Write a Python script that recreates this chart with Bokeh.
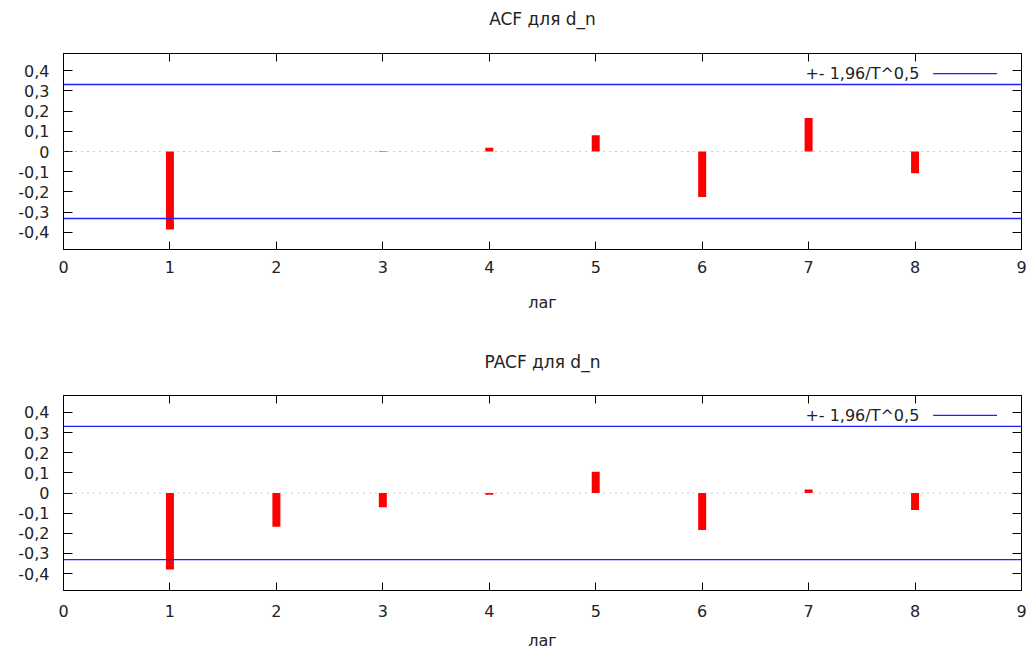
from bokeh.plotting import figure
from bokeh.models import (Range1d, FixedTicker, CustomJSTickFormatter, LinearAxis,
                          Span, Label, ColumnDataSource)
from bokeh.layouts import column
from bokeh.embed import file_html
from bokeh.resources import INLINE

# ---------------- data ----------------
lags = [1, 2, 3, 4, 5, 6, 7, 8]
acf_values = [-0.385, -0.003, -0.002, 0.018, 0.080, -0.225, 0.166, -0.107]
pacf_values = [-0.380, -0.167, -0.071, -0.009, 0.105, -0.184, 0.017, -0.085]
crit_band = 0.331
x_ticks = [0, 1, 2, 3, 4, 5, 6, 7, 8, 9]
y_ticks = [-0.4, -0.3, -0.2, -0.1, 0.0, 0.1, 0.2, 0.3, 0.4]
titles = ["ACF для d_n", "PACF для d_n"]
x_label = "лаг"
legend_text = "+- 1,96/T^0,5"

# ---------------- style ----------------
FONT = "DejaVu Sans"
TXT = "#222222"
BAR_W = 0.075
LEG_X_TEXT = 8.04
LEG_X0, LEG_X1 = 8.17, 8.77
LEG_Y = 0.385

y_fmt = CustomJSTickFormatter(code="""
if (Math.abs(tick) < 1e-9) { return '0'; }
return tick.toFixed(1).replace('.', ',');
""")


def make(title, values, frame_h, b_top, b_bottom, top_gap,
         tick_standoff, lab_standoff):
    p = figure(frame_width=958, frame_height=frame_h,
               x_range=Range1d(0, 9), y_range=Range1d(-0.484, 0.484),
               output_backend="svg", toolbar_location=None,
               min_border_left=63, min_border_right=6,
               min_border_top=b_top, min_border_bottom=b_bottom,
               background_fill_color="white", border_fill_color="white")
    p.outline_line_color = "black"
    p.outline_line_width = 1
    p.xgrid.visible = False
    p.ygrid.visible = False

    p.title.text = title
    p.title.align = "center"
    p.title.vertical_align = "bottom"
    p.title.text_font = FONT
    p.title.text_font_size = "17px"
    p.title.text_font_style = "normal"
    p.title.text_color = TXT
    p.title.standoff = 6

    # x axis
    xa = p.xaxis[0]
    xa.ticker = FixedTicker(ticks=x_ticks)
    xa.major_tick_in = 8
    xa.major_tick_out = 0
    xa.minor_tick_line_color = None
    xa.major_label_standoff = tick_standoff
    xa.major_label_text_font = FONT
    xa.major_label_text_font_size = "16px"
    xa.major_label_text_color = TXT
    xa.axis_label = x_label
    xa.axis_label_standoff = lab_standoff
    xa.axis_label_text_font = FONT
    xa.axis_label_text_font_size = "16px"
    xa.axis_label_text_font_style = "normal"
    xa.axis_label_text_color = TXT
    xa.axis_line_color = "black"

    # y axis
    ya = p.yaxis[0]
    ya.ticker = FixedTicker(ticks=y_ticks)
    ya.formatter = y_fmt
    ya.major_tick_in = 9
    ya.major_tick_out = 0
    ya.minor_tick_line_color = None
    ya.major_label_standoff = 14
    ya.major_label_text_font = FONT
    ya.major_label_text_font_size = "16px"
    ya.major_label_text_color = TXT
    ya.axis_line_color = "black"

    # mirrored ticks
    ra = LinearAxis(ticker=FixedTicker(ticks=y_ticks),
                    formatter=CustomJSTickFormatter(code="return '';"),
                    major_tick_in=9, major_tick_out=0, minor_tick_line_color=None,
                    major_label_text_font_size="0px", major_label_standoff=0,
                    axis_line_color="black")
    p.add_layout(ra, "right")
    ta = LinearAxis(ticker=FixedTicker(ticks=x_ticks),
                    formatter=CustomJSTickFormatter(code="return '';"),
                    major_tick_in=8, major_tick_out=0, minor_tick_line_color=None,
                    major_label_text_font_size="0px", major_label_standoff=0,
                    axis_label=" ", axis_label_standoff=top_gap,
                    axis_label_text_font_size="1px",
                    axis_line_color="black")
    p.add_layout(ta, "above")

    # zero line
    p.add_layout(Span(location=0, dimension="width", line_color="#999999",
                      line_width=1, line_dash="1 5"))
    # confidence band
    for s in (crit_band, -crit_band):
        p.add_layout(Span(location=s, dimension="width", line_color="#2020ff",
                          line_width=1.3))

    src = ColumnDataSource(dict(lag=lags, val=values))
    p.vbar(x="lag", top="val", bottom=0, width=BAR_W, source=src,
           fill_color="#ff0000", line_color=None)

    # legend (gnuplot style: text then sample line)
    p.add_layout(Label(x=LEG_X_TEXT, y=LEG_Y, text=legend_text, text_align="right",
                       text_baseline="middle", text_font=FONT,
                       text_font_size="16px", text_color=TXT))
    p.segment(x0=[LEG_X0], y0=[LEG_Y], x1=[LEG_X1], y1=[LEG_Y],
              line_color="#2020ff", line_width=1.3)
    return p


p1 = make(titles[0], acf_values, 196, 53, 91, 18, 11, 17)
p2 = make(titles[1], pacf_values, 195, 55, 60, 17, 14, 11)

layout = column(p1, p2, spacing=0)
open("out.html", "w").write(file_html(layout, INLINE))
